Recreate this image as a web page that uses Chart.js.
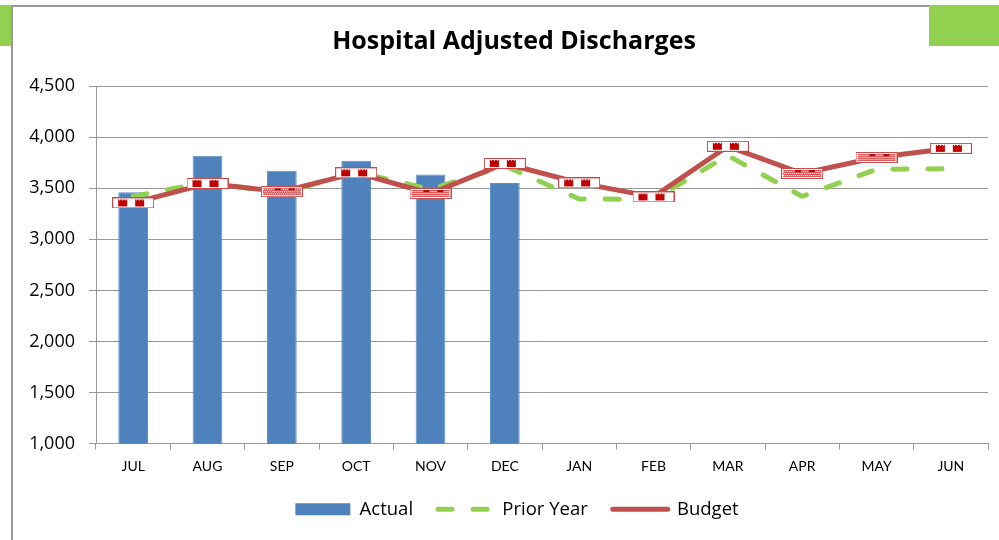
<!DOCTYPE html>
<html lang="en">
<head>
    <meta charset="utf-8">
    <title>Hospital Adjusted Discharges</title>
    <script src="https://cdn.jsdelivr.net/npm/chart.js"></script>
    <style>
        body { margin: 0; background: #fff; }
        .wrap { position: relative; width: 999px; height: 540px; overflow: hidden; }
        .frame-left { position: absolute; left: 11px; top: 5px; width: 2px; height: 535px; background: #9a9a9a; }
        .frame-top { position: absolute; left: 11px; top: 5px; width: 918px; height: 2px; background: #9a9a9a; }
        .tab-left { position: absolute; left: 0; top: 5px; width: 11px; height: 41px; background: #92D050; }
        .tab-right { position: absolute; left: 929px; top: 5px; width: 70px; height: 41px; background: #92D050; }
        canvas { position: absolute; left: 0; top: 0; }
    </style>
</head>
<body>
<div class="wrap">
    <div class="frame-left"></div>
    <div class="frame-top"></div>
    <div class="tab-left"></div>
    <div class="tab-right"></div>
    <canvas id="chart" width="999" height="540"></canvas>
</div>
<script>
    // values
    const chartTitle = 'Hospital Adjusted Discharges';
    const months = ['JUL', 'AUG', 'SEP', 'OCT', 'NOV', 'DEC', 'JAN', 'FEB', 'MAR', 'APR', 'MAY', 'JUN'];
    const actual = [3460, 3818, 3670, 3768, 3634, 3552, null, null, null, null, null, null];
    const priorYear = [3420, 3560, 3450, 3660, 3490, 3720, 3395, 3390, 3820, 3420, 3685, 3690];
    const budget = [3356, 3546, 3466, 3650, 3448, 3742, 3552, 3415, 3910, 3644, 3800, 3890];
    const yTicks = { min: 1000, max: 4500, step: 500 };

    const BLUE = '#4F81BD';
    const GREEN = '#92D050';
    const RED = '#C0504D';

    // budget marker: small red/white patterned bar
    function makeMarker(dotted) {
        const c = document.createElement('canvas');
        c.width = 42;
        c.height = 11;
        const g = c.getContext('2d');
        g.fillStyle = '#C9484A';
        g.fillRect(0, 0, 42, 11);
        g.fillStyle = '#fff';
        g.fillRect(1, 1, 40, 9);
        if (dotted) {
            g.fillStyle = '#D9585A';
            g.fillRect(2, 2, 38, 7);
            g.fillStyle = '#fff';
            for (let x = 2; x < 40; x += 2) {
                for (let y = 3; y < 9; y += 2) {
                    g.fillRect(x + (y % 4 === 1 ? 1 : 0), y, 1, 1);
                }
            }
            g.fillStyle = '#C00000';
            g.fillRect(14, 2, 6, 2);
            g.fillRect(28, 2, 6, 2);
        } else {
            g.fillStyle = '#C00000';
            g.fillRect(6, 2, 9, 7);
            g.fillRect(23, 2, 9, 7);
            g.fillStyle = '#fff';
            for (let x = 7; x < 15; x += 3) g.fillRect(x, 2, 1, 1);
            for (let x = 24; x < 32; x += 3) g.fillRect(x, 2, 1, 1);
        }
        return c;
    }
    const checkMarker = makeMarker(false);
    const dotMarker = makeMarker(true);
    const budgetStyles = [checkMarker, checkMarker, dotMarker, checkMarker, dotMarker, checkMarker,
        checkMarker, checkMarker, checkMarker, dotMarker, dotMarker, checkMarker];

    const sans = '"Open Sans", Lato, sans-serif';
    const narrow = 'Lato, "Open Sans", sans-serif';

    // title drawn at its own centre, the way the original sits over the frame
    const titlePlugin = {
        id: 'frameTitle',
        afterDraw(chart) {
            const ctx = chart.ctx;
            ctx.save();
            ctx.font = 'bold 25px ' + sans;
            ctx.fillStyle = '#000';
            ctx.textAlign = 'center';
            ctx.textBaseline = 'middle';
            ctx.fillText(chartTitle, 514, 42);
            ctx.restore();
        }
    };

    // put the legend row where the original has it
    const legendShift = {
        id: 'legendShift',
        afterLayout(chart) {
            const lg = chart.legend;
            const h = lg.height;
            lg.left += 15;
            lg.right += 15;
            lg.top = 475;
            lg.bottom = 475 + h;
        }
    };

    new Chart(document.getElementById('chart'), {
        type: 'bar',
        data: {
            labels: months,
            datasets: [
                {
                    label: 'Actual',
                    data: actual,
                    backgroundColor: BLUE,
                    borderColor: '#5E8FCB',
                    borderWidth: 1,
                    barPercentage: 0.4,
                    categoryPercentage: 1,
                    order: 3
                },
                {
                    type: 'line',
                    label: 'Prior Year',
                    data: priorYear,
                    borderColor: GREEN,
                    borderWidth: 5,
                    borderDash: [14, 21],
                    borderCapStyle: 'round',
                    pointRadius: 0,
                    tension: 0,
                    order: 2
                },
                {
                    type: 'line',
                    label: 'Budget',
                    data: budget,
                    borderColor: RED,
                    borderWidth: 5,
                    pointStyle: budgetStyles,
                    pointRadius: 6,
                    tension: 0,
                    order: 1
                }
            ]
        },
        plugins: [titlePlugin, legendShift],
        options: {
            responsive: false,
            animation: false,
            devicePixelRatio: 1,
            layout: { padding: { top: 86, left: 12, right: 7, bottom: 9 } },
            plugins: {
                title: { display: false },
                legend: {
                    position: 'bottom',
                    labels: {
                        usePointStyle: true,
                        pointStyleWidth: 55,
                        boxHeight: 12,
                        padding: 25,
                        color: '#000',
                        font: { family: sans, size: 18.5 },
                        generateLabels: () => [
                            { text: 'Actual', fillStyle: BLUE, strokeStyle: BLUE, lineWidth: 0, pointStyle: 'rect', datasetIndex: 0 },
                            { text: 'Prior Year', fillStyle: 'rgba(0,0,0,0)', strokeStyle: GREEN, lineWidth: 5,
                              lineDash: [14, 21], lineCap: 'round', pointStyle: 'line', datasetIndex: 1 },
                            { text: 'Budget', fillStyle: 'rgba(0,0,0,0)', strokeStyle: RED, lineWidth: 5,
                              lineCap: 'round', pointStyle: 'line', datasetIndex: 2 }
                        ]
                    }
                },
                tooltip: { enabled: false }
            },
            scales: {
                x: {
                    afterFit: s => { s.height -= 5; },
                    grid: { display: true, drawOnChartArea: false, color: '#9a9a9a', tickLength: 6 },
                    border: { color: '#9a9a9a', width: 1 },
                    ticks: { color: '#000', padding: 8, font: { family: narrow, size: 14 } }
                },
                y: {
                    min: yTicks.min,
                    max: yTicks.max,
                    afterFit: s => { s.width = 84; },
                    grid: { color: '#9a9a9a', lineWidth: 1, tickLength: 7 },
                    border: { color: '#9a9a9a', width: 1 },
                    ticks: {
                        stepSize: yTicks.step,
                        color: '#000',
                        padding: 14,
                        font: { family: sans, size: 18 },
                        callback: v => v.toLocaleString('en-US')
                    }
                }
            }
        }
    });
</script>
</body>
</html>
